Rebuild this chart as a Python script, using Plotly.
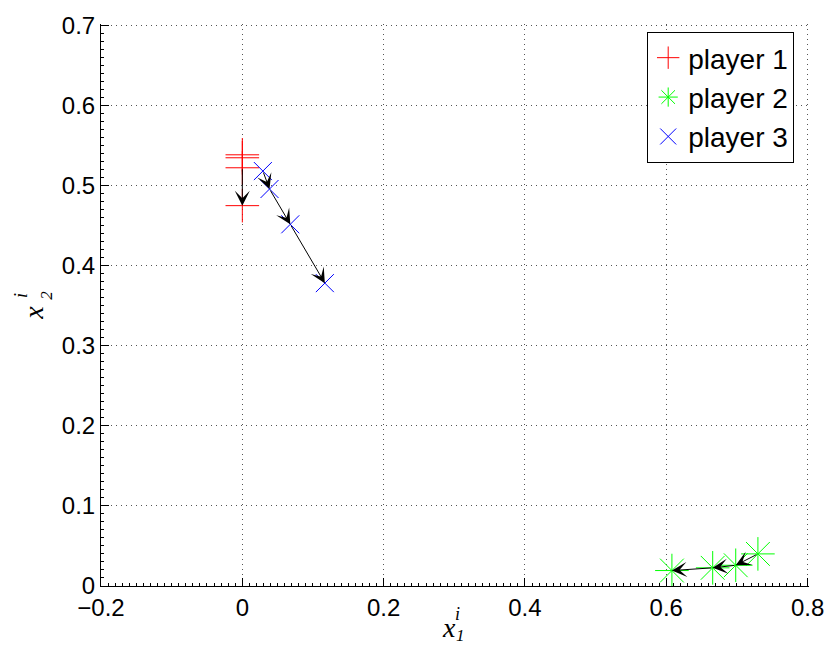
import plotly.graph_objects as go

# ---------------- data ----------------
p1_x = [0.0, 0.0, 0.0, 0.0]
p1_y = [0.5386, 0.5349, 0.5224, 0.4751]

p2_x = [0.7297, 0.6983, 0.6657, 0.6080]
p2_y = [0.0401, 0.0259, 0.0227, 0.0193]

p3_x = [0.0291, 0.0385, 0.0679, 0.1168]
p3_y = [0.5183, 0.4959, 0.4518, 0.3783]

names = ["player 1", "player 2", "player 3"]
colors = ["#ff0000", "#00ff00", "#0000ff"]
symbols = ["cross-thin-open", "asterisk-open", "x-thin-open"]
sizes = [24, 28, 18]

x_range = [-0.2, 0.802]
y_range = [0.0, 0.702]

# ---------------- layout geometry ----------------
W, H = 836, 646
L, R, T, B = 101, 18, 22, 60
PW, PH = W - L - R, H - T - B

def px2paper(px, py):
    return (px - L) / PW, (H - B - py) / PH

FONT = "Liberation Sans, Arial, Helvetica, sans-serif"
SERIF = "Liberation Serif, Times New Roman, serif"

fig = go.Figure()
for xs, ys, nm, c, s, sz in zip([p1_x, p2_x, p3_x], [p1_y, p2_y, p3_y],
                                names, colors, symbols, sizes):
    fig.add_trace(go.Scatter(
        x=xs, y=ys, mode="markers", name=nm,
        marker=dict(symbol=s, size=sz, color=c, line=dict(width=1, color=c)),
    ))

# arrows between consecutive positions
annotations = []
sx = PW / (x_range[1] - x_range[0])
sy = PH / (y_range[1] - y_range[0])
for xs, ys in [(p1_x, p1_y), (p2_x, p2_y), (p3_x, p3_y)]:
    for i in range(len(xs) - 1):
        dpx = ((xs[i + 1] - xs[i]) * sx) ** 2 + ((ys[i + 1] - ys[i]) * sy) ** 2
        if dpx ** 0.5 < 15:
            continue
        annotations.append(dict(
            x=xs[i + 1], y=ys[i + 1], ax=xs[i], ay=ys[i],
            xref="x", yref="y", axref="x", ayref="y",
            text="", showarrow=True, arrowhead=3, arrowsize=2.5,
            arrowwidth=1, arrowcolor="black", standoff=0,
        ))

def lab(px, py, text, size, angle=0):
    x, y = px2paper(px, py)
    return dict(x=x, y=y, xref="paper", yref="paper", text=text,
                showarrow=False, textangle=angle, xanchor="center",
                yanchor="middle", font=dict(family=SERIF, size=size, color="black"))

annotations += [
    lab(453, 628, "<i>x</i>", 28),
    lab(462, 614, "<i>i</i>", 18),
    lab(465, 636, "<i>1</i>", 17),
    lab(33, 312, "<i>x</i>", 28, -90),
    lab(20, 295, "<i>i</i>", 18, -90),
    lab(45, 294, "<i>2</i>", 17, -90),
]

lx, ly = px2paper(803, 30)

axis_common = dict(
    showgrid=True, gridcolor="#555", griddash="1px,4px", gridwidth=1,
    zeroline=False, showline=True, linecolor="black", linewidth=1,
    ticks="inside", ticklen=8, tickcolor="black", tickwidth=1,
    tickfont=dict(family=FONT, size=24, color="black"),
    minor=dict(dtick=0.01, ticks="inside", ticklen=3, tickcolor="black",
               showgrid=False),
    mirror=False,
)

fig.update_layout(
    width=W, height=H,
    margin=dict(l=L, r=R, t=T, b=B, pad=0),
    paper_bgcolor="white", plot_bgcolor="white",
    xaxis=dict(range=x_range, dtick=0.2, tick0=0, **axis_common),
    yaxis=dict(range=y_range, dtick=0.1, tick0=0, **axis_common),
    showlegend=True,
    legend=dict(x=lx, y=ly, xanchor="right", yanchor="top",
                bgcolor="white", bordercolor="black", borderwidth=1,
                font=dict(family=FONT, size=28, color="black"),
                tracegroupgap=0, itemsizing="trace"),
    annotations=annotations,
)

fig.write_html("out.html")
